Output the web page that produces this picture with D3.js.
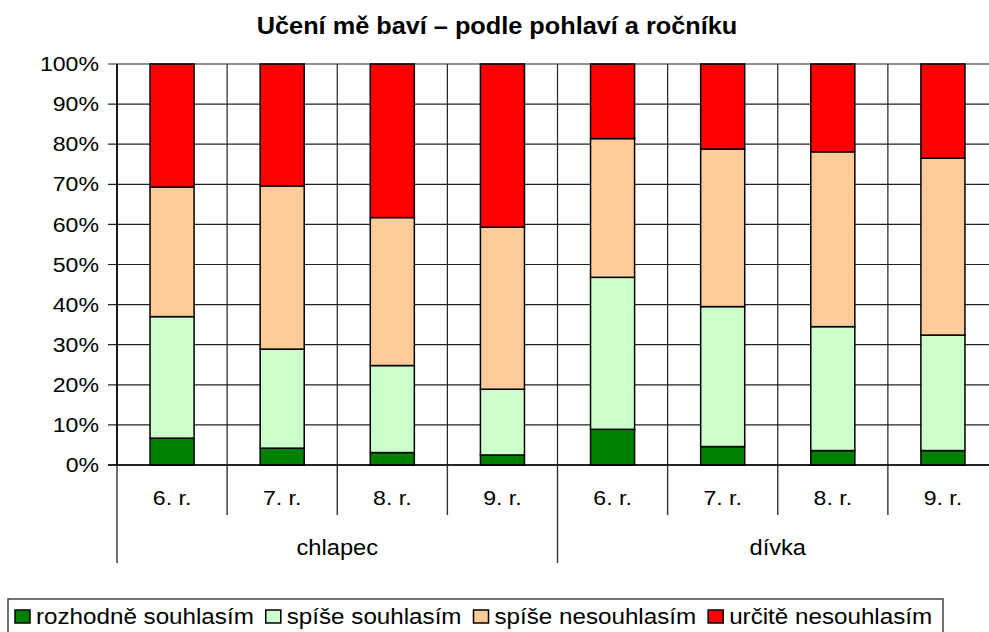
<!DOCTYPE html>
<html>
<head>
<meta charset="utf-8">
<script src="https://cdn.jsdelivr.net/npm/d3@7"></script>
<style>
  body { margin: 0; background: #fff; }
  svg { display: block; font-family: "Liberation Sans", Arial, sans-serif; }
</style>
</head>
<body>
<script>
// data (percent of pupils)
const groups = ["chlapec", "dívka"];
const grades = ["6. r.", "7. r.", "8. r.", "9. r."];
const seriesNames = ["rozhodně souhlasím", "spíše souhlasím", "spíše nesouhlasím", "určitě nesouhlasím"];
const rozhodneSouhlasim = [6.7, 4.2, 3.1, 2.5, 8.9, 4.6, 3.6, 3.6];
const spiseSouhlasim    = [30.3, 24.7, 21.7, 16.4, 37.9, 34.9, 30.9, 28.8];
const spiseNesouhlasim  = [32.3, 40.7, 36.9, 40.4, 34.6, 39.3, 43.6, 44.1];
const urciteNesouhlasim = [30.7, 30.4, 38.3, 40.7, 18.6, 21.2, 21.9, 23.5];
const yTicks = [0, 10, 20, 30, 40, 50, 60, 70, 80, 90, 100];
const title = "Učení mě baví – podle pohlaví a ročníku";

const colors = ["#008000", "#ccffcc", "#ffcc99", "#ff0000"];

const outerWidth = 989, outerHeight = 632;
const margin = {top: 64, left: 117, bottom: 167};
const plotRight = 998; // the original chart runs a little past the image edge
const sx = 1.1; // text in the picture is slightly stretched sideways

// build rows for the stack
const cats = [];
groups.forEach(g => grades.forEach(r => cats.push({group: g, grade: r})));
const rows = cats.map((c, i) => ({
  i: i,
  s0: rozhodneSouhlasim[i],
  s1: spiseSouhlasim[i],
  s2: spiseNesouhlasim[i],
  s3: urciteNesouhlasim[i]
}));
const stack = d3.stack().keys(["s0", "s1", "s2", "s3"]).offset(d3.stackOffsetExpand);
const layers = stack(rows);

const svg = d3.select("body").append("svg")
  .attr("width", outerWidth)
  .attr("height", outerHeight);

const x = d3.scaleBand()
  .domain(d3.range(cats.length))
  .range([margin.left, plotRight])
  .padding(0);
const y = d3.scaleLinear()
  .domain([0, 1])
  .range([outerHeight - margin.bottom, margin.top]);
const yBottom = y(0);

// helper for stretched text
function addText(parent, tx, ty, str, anchor, size, weight) {
  return parent.append("g")
    .attr("transform", "translate(" + tx + "," + ty + ")")
    .append("text")
    .attr("transform", "scale(" + sx + ",1)")
    .attr("text-anchor", anchor)
    .attr("dominant-baseline", "central")
    .style("font-size", size + "px")
    .style("font-weight", weight || "normal")
    .style("fill", "#000")
    .text(str);
}

// title
addText(svg, 497, 26, title, "middle", 23, "bold");

// gridlines
const grid = svg.append("g").attr("stroke", "#222").attr("stroke-width", 1.2);
grid.selectAll(".hgrid")
  .data(yTicks)
  .join("line")
  .attr("class", "hgrid")
  .attr("x1", margin.left - 9)
  .attr("x2", plotRight)
  .attr("y1", d => y(d / 100))
  .attr("y2", d => y(d / 100));
grid.selectAll(".vgrid")
  .data(d3.range(cats.length + 1))
  .join("line")
  .attr("class", "vgrid")
  .attr("x1", d => margin.left + d * x.bandwidth())
  .attr("x2", d => margin.left + d * x.bandwidth())
  .attr("y1", margin.top)
  .attr("y2", yBottom);

// y tick labels
const yLab = svg.append("g");
yTicks.forEach(t => addText(yLab, 99, y(t / 100), t + "%", "end", 21));

// bars
const barW = x.bandwidth() * 0.4;
svg.selectAll(".layer")
  .data(layers)
  .join("g")
  .attr("class", "layer")
  .attr("fill", (d, i) => colors[i])
  .selectAll("rect")
  .data(d => d)
  .join("rect")
  .attr("x", (d, i) => x(i) + (x.bandwidth() - barW) / 2)
  .attr("width", barW)
  .attr("y", d => y(d[1]))
  .attr("height", d => y(d[0]) - y(d[1]))
  .attr("stroke", "#000")
  .attr("stroke-width", 1.5);

// axis lines
svg.append("line")
  .attr("x1", margin.left - 9).attr("x2", plotRight)
  .attr("y1", yBottom).attr("y2", yBottom)
  .attr("stroke", "#000").attr("stroke-width", 1.6);
svg.append("line")
  .attr("x1", margin.left).attr("x2", margin.left)
  .attr("y1", margin.top).attr("y2", yBottom)
  .attr("stroke", "#000").attr("stroke-width", 1.6);

// category axis: grade separators, group separators and labels
const catAxis = svg.append("g").attr("stroke", "#333").attr("stroke-width", 1.4);
catAxis.selectAll(".tick")
  .data(d3.range(cats.length + 1))
  .join("line")
  .attr("x1", d => margin.left + d * x.bandwidth())
  .attr("x2", d => margin.left + d * x.bandwidth())
  .attr("y1", yBottom)
  .attr("y2", d => (d % grades.length === 0) ? yBottom + 98 : yBottom + 50);

const catLabels = svg.append("g");
cats.forEach((c, i) => addText(catLabels, x(i) + x.bandwidth() / 2, yBottom + 33, c.grade, "middle", 21));
groups.forEach((g, gi) => {
  const cx = margin.left + (gi + 0.5) * grades.length * x.bandwidth();
  addText(catLabels, cx, yBottom + 83, g, "middle", 21.5);
});

// legend
const legend = svg.append("g");
legend.append("rect")
  .attr("x", 8).attr("y", 599)
  .attr("width", 935).attr("height", 50)
  .attr("fill", "none")
  .attr("stroke", "#444")
  .attr("stroke-width", 1.5);
let lx = 15;
seriesNames.forEach((name, i) => {
  legend.append("rect")
    .attr("x", lx).attr("y", 610)
    .attr("width", 15).attr("height", 13)
    .attr("fill", colors[i])
    .attr("stroke", "#000")
    .attr("stroke-width", 1.5);
  const t = addText(legend, lx + 21, 616.5, name, "start", 22);
  lx += 21 + t.node().getComputedTextLength() * sx + 12;
});
</script>
</body>
</html>
